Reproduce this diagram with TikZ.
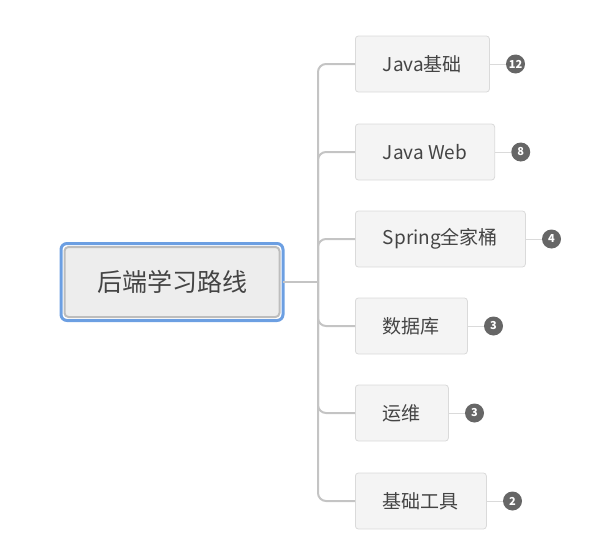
\documentclass[tikz,border=0pt]{standalone}
\usepackage{fontspec}
\setmainfont{Noto Sans CJK SC}
\usetikzlibrary{positioning,calc}
\definecolor{txt}{HTML}{444444}
\definecolor{linec}{HTML}{C4C4C4}
\definecolor{boxfill}{HTML}{F4F4F4}
\definecolor{boxline}{HTML}{DADADA}
\definecolor{rootfill}{HTML}{EDEDED}
\definecolor{rootline}{HTML}{BDBDBD}
\definecolor{rootblue}{HTML}{6C9FE2}
\definecolor{badgec}{HTML}{666666}
\tikzset{
  child/.style={draw=boxline, fill=boxfill, rounded corners=3pt, line width=0.8pt,
    minimum height=56pt, inner xsep=27.5pt, anchor=west, text=txt,
    font=\fontsize{19}{22}\selectfont},
  rootbox/.style={draw=rootline, fill=rootfill, rounded corners=4pt, line width=2pt,
    minimum width=215pt, minimum height=70pt, text=txt,
    font=\fontsize{25}{28}\selectfont},
  badge/.style={circle, fill=badgec, text=white, minimum size=19pt, inner sep=0pt,
    font=\fontsize{11}{13}\selectfont\bfseries},
  branch/.style={draw=linec, line width=2pt, rounded corners=8pt},
  blink/.style={draw=boxline, line width=1pt},
}
\begin{document}
\begin{tikzpicture}[x=1pt,y=-1pt]
\useasboundingbox (0,0) rectangle (603,549);
\node[rootbox] (root) at (172,282) {后端学习路线};
\draw[rootblue, line width=3pt, rounded corners=6pt]
  ($(root.north west)+(-2.5,-2.5)$) rectangle ($(root.south east)+(2.5,2.5)$);
\coordinate (hub) at (318,282);
\node[child] (c1) at (355,64) {Java基础};
\node[child] (c2) at (355,152) {Java Web};
\node[child] (c3) at (355,239) {Spring全家桶};
\node[child] (c4) at (355,326) {数据库};
\node[child] (c5) at (355,413) {运维};
\node[child] (c6) at (355,501) {基础工具};
\draw[draw=linec, line width=2pt] ($(root.east)+(2.5,0)$) -- (hub);
\foreach \c in {c1,c2,c3,c4,c5,c6}{
  \draw[branch] (hub) -- (hub |- \c.west) -- (\c.west);
}
\node[badge, right=16pt of c1] (b1) {12};
\node[badge, right=16pt of c2] (b2) {8};
\node[badge, right=16pt of c3] (b3) {4};
\node[badge, right=16pt of c4] (b4) {3};
\node[badge, right=16pt of c5] (b5) {3};
\node[badge, right=16pt of c6] (b6) {2};
\foreach \i in {1,...,6}{
  \draw[blink] (c\i.east) -- (b\i.west);
}
\end{tikzpicture}
\end{document}
